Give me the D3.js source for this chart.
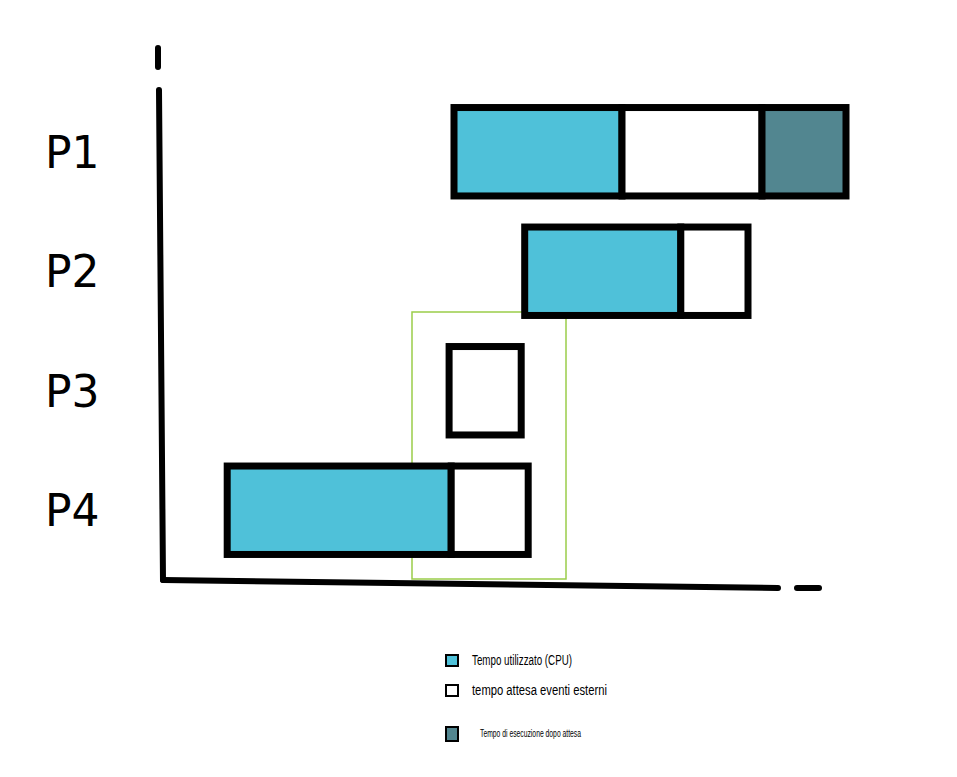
<!DOCTYPE html>
<html><head><meta charset="utf-8">
<script src="https://cdn.jsdelivr.net/npm/d3@7"></script>
<style>body{margin:0;background:#fff}</style></head>
<body><svg id="c" width="957" height="777"></svg>
<script>
const processes = ["P1","P2","P3","P4"];
const segments = [
  {p:"P1", start:42, end:66, type:"cpu"},
  {p:"P1", start:66, end:86, type:"wait"},
  {p:"P1", start:86, end:98, type:"exec"},
  {p:"P2", start:52.1, end:74.4, type:"cpu"},
  {p:"P2", start:74.4, end:84, type:"wait"},
  {p:"P3", start:41.3, end:51.6, type:"wait"},
  {p:"P4", start:9.6, end:41.6, type:"cpu"},
  {p:"P4", start:41.6, end:52.6, type:"wait"}
];
const highlight = {start:36, end:58};
const legendLabels = ["Tempo utilizzato (CPU)","tempo attesa eventi esterni","Tempo di esecuzione dopo attesa"];
const colors = {cpu:"#4FC1D9", wait:"#ffffff", exec:"#528690"};

const svg = d3.select("#c");
const x = d3.scaleLinear().domain([0,100]).range([160,860]);
const y = d3.scaleBand().domain(processes).range([92,570]).paddingInner(0.26).paddingOuter(0.13);

// highlight box
svg.append("rect").attr("x",x(highlight.start)).attr("y",312)
  .attr("width",x(highlight.end)-x(highlight.start)).attr("height",267)
  .attr("fill","none").attr("stroke","#9ACD4A").attr("stroke-width",1.5);

svg.selectAll("rect.seg").data(segments).join("rect").attr("class","seg")
  .attr("x",d=>x(d.start)).attr("y",d=>y(d.p))
  .attr("width",d=>x(d.end)-x(d.start)).attr("height",y.bandwidth())
  .attr("fill",d=>colors[d.type]).attr("stroke","#000").attr("stroke-width",7);

// axes
const ax = svg.append("g").attr("stroke","#000").attr("stroke-width",6).attr("stroke-linecap","round");
ax.append("line").attr("x1",158).attr("y1",48).attr("x2",158).attr("y2",67);
ax.append("line").attr("x1",159).attr("y1",90).attr("x2",163).attr("y2",580);
ax.append("line").attr("x1",163).attr("y1",580).attr("x2",778).attr("y2",588);
ax.append("line").attr("x1",797).attr("y1",588).attr("x2",819).attr("y2",588);

svg.selectAll("text.lab").data(processes).join("text").attr("class","lab")
  .attr("x",45).attr("y",d=>y(d)+y.bandwidth()/2+16)
  .attr("font-family","DejaVu Sans").attr("font-size",44).text(d=>d);

// legend
const ly=[661,691,733];
const lg = svg.append("g");
legendLabels.forEach((t,i)=>{
  lg.append("rect").attr("x",446).attr("y",ly[i]-6).attr("width",12).attr("height",i==2?14:11)
    .attr("fill",i==0?colors.cpu:i==1?"#fff":colors.exec).attr("stroke","#000").attr("stroke-width",2);
  lg.append("text").attr("x",i==2?480:472).attr("y",ly[i]+4)
    .attr("font-family","Liberation Sans Narrow, Liberation Sans").attr("font-size",i==2?11:14)
    .attr("textLength",i==0?100:i==1?135:101).attr("lengthAdjust","spacingAndGlyphs").text(t);
});
</script></body></html>
